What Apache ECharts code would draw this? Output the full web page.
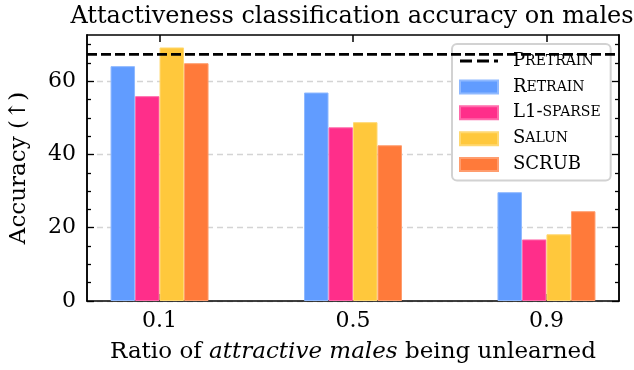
<!DOCTYPE html>
<html>
<head>
<meta charset="utf-8">
<script src="https://cdn.jsdelivr.net/npm/echarts@6/dist/echarts.min.js"></script>
<style>
  html, body { margin: 0; padding: 0; background: #fff; }
  #chart { width: 634px; height: 370px; }
</style>
</head>
<body>
<div id="chart"></div>
<script>
// ratios of attractive males being unlearned
var ratios = [0.1, 0.5, 0.9];
var pretrain = 67.3;
var retrain = [64.1, 56.9, 29.7];
var l1sparse = [55.9, 47.4, 16.8];
var salun = [69.2, 48.8, 18.2];
var scrub = [64.9, 42.5, 24.5];
var yMajor = [0, 20, 40, 60];
var yMinor = [5, 10, 15, 25, 30, 35, 45, 50, 55, 65, 70];

var font = "DejaVu Serif";
var X_MIN = -0.05, X_MAX = 1.05, Y_MAX = 72.6;

function pairs(vals) {
  return ratios.map(function (r, i) { return [r, vals[i]]; });
}

var chart = echarts.init(document.getElementById("chart"));

var frameLine = { show: true, onZero: false, lineStyle: { color: "#000", width: 1.5 } };

function xAx(pos, labels) {
  return {
    type: "value", position: pos, min: X_MIN, max: X_MAX,
    axisLine: frameLine,
    axisTick: { show: true, inside: true, length: 7, customValues: ratios,
      lineStyle: { color: "#000", width: 1.5 } },
    axisLabel: { show: labels, customValues: ratios, margin: 9,
      fontFamily: font, fontSize: 22, color: "#000",
      formatter: function (v) { return v.toFixed(1); } },
    splitLine: { show: false }
  };
}

function yAx(pos, vals, len, labels, grid) {
  return {
    type: "value", position: pos, min: 0, max: Y_MAX,
    axisLine: frameLine,
    axisTick: { show: true, inside: true, length: len, customValues: vals,
      lineStyle: { color: "#000", width: 1.3 } },
    axisLabel: { show: labels, customValues: vals, margin: 11,
      fontFamily: font, fontSize: 22, color: "#000" },
    splitLine: { show: grid, customValues: [20, 40, 60],
      lineStyle: { color: "#d4d4d4", width: 1.3, type: [6, 4] } }
  };
}

var yMain = yAx("left", yMajor, 7, true, true);
yMain.name = "Accuracy (\u2191)";
yMain.nameLocation = "middle";
yMain.nameGap = 56;
yMain.nameRotate = 90;
yMain.nameTextStyle = { fontFamily: font, fontSize: 23, color: "#000" };

var xMain = xAx("bottom", true);
xMain.name = "{n|Ratio of }{i|attractive males}{n| being unlearned}";
xMain.nameLocation = "middle";
xMain.nameGap = 40;
xMain.nameTextStyle = {
  rich: {
    n: { fontFamily: font, fontSize: 23, color: "#000" },
    i: { fontFamily: font, fontSize: 23, color: "#000", fontStyle: "italic" }
  }
};

function barSeries(name, vals, color, edge) {
  return {
    name: name, type: "bar", data: pairs(vals),
    barWidth: 24.5, barGap: "0%",
    itemStyle: { color: color, borderColor: edge, borderWidth: 1 },
    z: 3
  };
}

var option = {
  animation: false,
  title: {
    text: "Attactiveness classification accuracy on males",
    left: 347, top: 0, textAlign: "center",
    textStyle: { fontFamily: font, fontSize: 24, fontWeight: "normal", color: "#000" }
  },
  grid: { left: 75, right: 15, top: 35, bottom: 69, containLabel: false },
  legend: {
    orient: "vertical", left: 452, top: 44,
    padding: [8, 10, 7, 7],
    itemWidth: 38, itemHeight: 13, itemGap: 7.9,
    backgroundColor: "#fff", borderColor: "#d2d2d2", borderWidth: 2, borderRadius: 5,
    data: [
      { name: "Pretrain", icon: "path://M0,0h12v3h-12z M17,0h12v3h-12z M34,0h4v3h-4z" },
      { name: "Retrain", icon: "rect" },
      { name: "L1-sparse", icon: "rect" },
      { name: "Salun", icon: "rect" },
      { name: "SCRUB", icon: "rect" }
    ],
    formatter: function (n) {
      if (n === "Pretrain") return "{c|P}{s|RETRAIN}";
      if (n === "Retrain") return "{c|R}{s|ETRAIN}";
      if (n === "L1-sparse") return "{c|L1-}{s|SPARSE}";
      if (n === "Salun") return "{c|S}{s|ALUN}";
      return "{c|SCRUB}";
    },
    textStyle: {
      padding: [0, 0, 0, 10],
      rich: {
        c: { fontFamily: font, fontSize: 18, color: "#000" },
        s: { fontFamily: font, fontSize: 14, color: "#000" }
      }
    }
  },
  xAxis: [xMain, xAx("top", false)],
  yAxis: [
    yMain,
    yAx("left", yMinor, 4, false, false),
    yAx("right", yMajor, 7, false, false),
    yAx("right", yMinor, 4, false, false)
  ],
  series: [
    {
      name: "Pretrain", type: "line", symbol: "none",
      data: [[X_MIN, pretrain], [X_MAX, pretrain]],
      lineStyle: { color: "#000", width: 2.6, type: [10, 4] },
      itemStyle: { color: "#000" },
      z: 4
    },
    barSeries("Retrain", retrain, "#619cff", "#8fb9ff"),
    barSeries("L1-sparse", l1sparse, "#ff2e8a", "#ff6aab"),
    barSeries("Salun", salun, "#ffc83c", "#ffd870"),
    barSeries("SCRUB", scrub, "#ff7a3a", "#ff9d6e")
  ]
};

chart.setOption(option);
</script>
</body>
</html>
